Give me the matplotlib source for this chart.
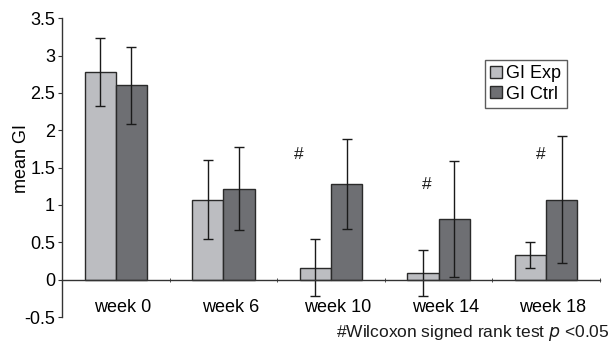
import matplotlib
matplotlib.use("Agg")
import matplotlib.pyplot as plt
import matplotlib.transforms as mtransforms
import numpy as np

categories = ["week 0", "week 6", "week 10", "week 14", "week 18"]
gi_exp = [2.78, 1.07, 0.16, 0.09, 0.33]
gi_exp_err = [0.45, 0.53, 0.38, 0.31, 0.17]
gi_ctrl = [2.60, 1.22, 1.28, 0.81, 1.07]
gi_ctrl_err = [0.51, 0.56, 0.60, 0.78, 0.85]
hash_x = [1.7, 2.89, 3.95]
hash_y = [1.68, 1.27, 1.68]

plt.rcParams['font.family'] = ['Liberation Sans', 'DejaVu Sans']
fig = plt.figure(figsize=(6.14, 3.43), dpi=100)
ax = fig.add_axes([0.101, 0.0758, 0.876, 0.871])

x = np.arange(len(categories))
w = 0.29
c_exp = "#bcbdc1"
c_ctrl = "#6e6f73"
edge = "#2a2a2a"
ekw = dict(ecolor="#1a1a1a", elinewidth=1.0, capsize=3.6, capthick=1.0)
ax.bar(x - w/2, gi_exp, w, color=c_exp, edgecolor=edge, linewidth=1.0,
       yerr=gi_exp_err, error_kw=ekw, label="GI Exp", zorder=2)
ax.bar(x + w/2, gi_ctrl, w, color=c_ctrl, edgecolor=edge, linewidth=1.0,
       yerr=gi_ctrl_err, error_kw=ekw, label="GI Ctrl", zorder=2)

for hx, hy in zip(hash_x, hash_y):
    ax.text(hx, hy, "#", ha="center", va="center", fontsize=12.5, color="#1a1a1a")

ax.set_xlim(-0.5, len(categories) - 0.5)
ax.set_ylim(-0.5, 3.5)
ax.set_yticks(np.arange(-0.5, 3.51, 0.5))
ax.set_yticklabels(["-0.5", "0", "0.5", "1", "1.5", "2", "2.5", "3", "3.5"])
ax.spines['top'].set_visible(False)
ax.spines['right'].set_visible(False)
ax.spines['bottom'].set_position(('data', 0))
for s in ['left', 'bottom']:
    ax.spines[s].set_color("#333333")
    ax.spines[s].set_linewidth(1.0)
ax.set_xticks(x)
ax.set_xticklabels(categories)
ax.set_xticks(np.arange(0.5, len(categories), 1.0), minor=True)
ax.tick_params(axis='x', which='major', length=0, pad=14, labelsize=13)
ax.tick_params(axis='x', which='minor', length=3, direction='inout', color="#333333")
ax.tick_params(axis='y', length=3, direction='out', labelsize=13, color="#333333", pad=2)
offset = mtransforms.ScaledTranslation(0.07, 0, fig.dpi_scale_trans)
for lab in ax.get_xticklabels():
    lab.set_transform(lab.get_transform() + offset)
ax.set_ylabel("mean GI", fontsize=13, va="center")
ax.yaxis.set_label_coords(-0.076, 0.53)

leg = ax.legend(loc='upper left', bbox_to_anchor=(0.786, 0.86), fontsize=13,
                frameon=True, fancybox=False, edgecolor="#333333",
                handlelength=0.65, handleheight=0.65, handletextpad=0.25,
                borderpad=0.3, labelspacing=0.18, borderaxespad=0)
leg.get_frame().set_linewidth(1.0)

fig.text(0.993, 0.03, r"#Wilcoxon signed rank test $\it{p}$ <0.05", ha="right", va="center",
         fontsize=12.5, color="#1a1a1a")

fig.savefig("out.png", dpi=100)
